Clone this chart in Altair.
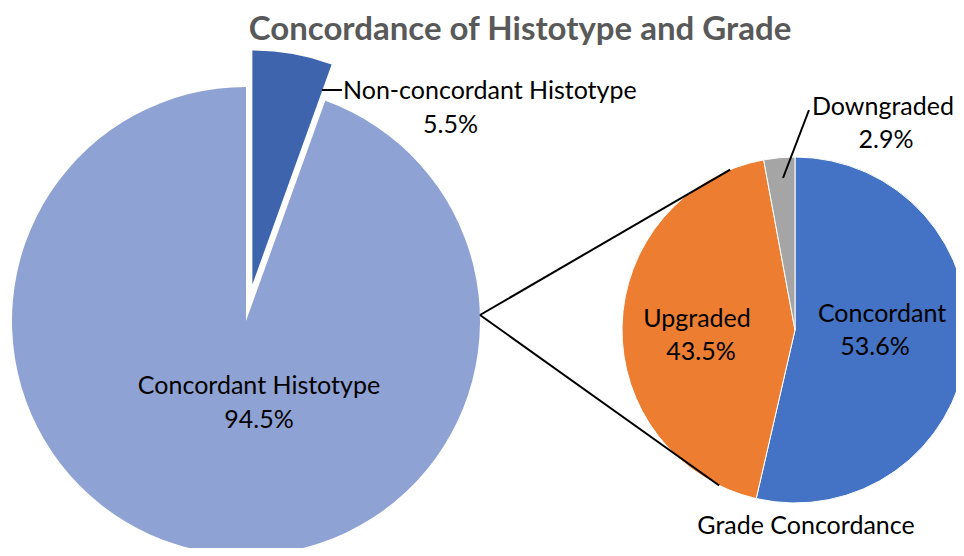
import math
import altair as alt
import pandas as pd

# ---------------- data ----------------
hist_labels = ["Non-concordant Histotype", "Concordant Histotype"]
hist_values = [5.5, 94.5]
grade_labels = ["Concordant", "Upgraded", "Downgraded"]
grade_values = [53.6, 43.5, 2.9]
title_text = "Concordance of Histotype and Grade"
second_pie_name = "Grade Concordance"

all_labels = hist_labels + grade_labels
all_colors = ["#3D64AD", "#8FA2D4", "#4472C4", "#ED7D31", "#A5A5A5"]

# ---------------- layout ----------------
W, H = 948, 540
FONT = "Lato"
LBL = 25
BIG_C = (238, 313)
BIG_R = 234
EXPLODE = 37
SMALL_C = (787, 322)
SMALL_R = 173

df_h = pd.DataFrame({"label": hist_labels, "value": hist_values, "idx": range(len(hist_labels))})
df_g = pd.DataFrame({"label": grade_labels, "value": grade_values, "idx": range(len(grade_labels))})

theta_scale = alt.Scale(domain=[0, 100], range=[0, 2 * math.pi])
color_scale = alt.Scale(domain=all_labels, range=all_colors)


def pie(df, keep, cx, cy, r, stroke=None):
    ch = alt.Chart(df).transform_stack(
        stack="value", groupby=[], as_=["t0", "t1"], sort=[alt.SortField("idx", order="ascending")]
    )
    if keep is not None:
        ch = ch.transform_filter(alt.FieldOneOfPredicate(field="label", oneOf=keep))
    kw = dict(radius=r)
    if stroke:
        kw.update(stroke=stroke, strokeWidth=1)
    return ch.mark_arc(**kw).encode(
        theta=alt.Theta("t0:Q", scale=theta_scale),
        theta2="t1:Q",
        color=alt.Color("label:N", scale=color_scale, legend=None),
        x=alt.value(cx),
        y=alt.value(cy),
    )


# explode direction: middle of first slice
mid = hist_values[0] / 100 * math.pi
dx, dy = EXPLODE * math.sin(mid), -EXPLODE * math.cos(mid)

light = pie(df_h, [hist_labels[1]], BIG_C[0], BIG_C[1], BIG_R)
dark = pie(df_h, [hist_labels[0]], BIG_C[0] + dx, BIG_C[1] + dy, BIG_R)
small = pie(df_g, None, SMALL_C[0], SMALL_C[1], SMALL_R, stroke="#FFFFFF")


def line(x1, y1, x2, y2, w=2):
    return alt.Chart(pd.DataFrame({"k": [0]})).mark_rule(color="#000000", strokeWidth=w).encode(
        x=alt.value(x1), y=alt.value(y1), x2=alt.value(x2), y2=alt.value(y2)
    )


def txt(s, x, y, size=LBL, align="center", weight="normal", color="#000000"):
    return alt.Chart(pd.DataFrame({"t": [s]})).mark_text(
        font=FONT, fontSize=size, align=align, baseline="alphabetic", fontWeight=weight, color=color
    ).encode(x=alt.value(x), y=alt.value(y), text="t:N")


def pct(v):
    return f"{v}%"


# connector lines from big pie to second pie
vx, vy = BIG_C[0] + BIG_R, BIG_C[1] - 6
a_top, a_bot = math.radians(338), math.radians(206)
top_pt = (SMALL_C[0] + SMALL_R * math.sin(a_top), SMALL_C[1] - SMALL_R * math.cos(a_top))
bot_pt = (SMALL_C[0] + SMALL_R * math.sin(a_bot), SMALL_C[1] - SMALL_R * math.cos(a_bot))

layers = [
    light,
    dark,
    small,
    line(vx, vy, top_pt[0], top_pt[1]),
    line(vx, vy, bot_pt[0], bot_pt[1]),
    line(314, 82, 334, 82),
    line(801, 102, 775, 170),
    txt(title_text, 512, 32, size=33, weight="bold", color="#595959"),
    txt(hist_labels[0], 335, 91, align="left"),
    txt(pct(hist_values[0]), 415, 125, align="left"),
    txt(hist_labels[1], 251, 386),
    txt(pct(hist_values[1]), 251, 420),
    txt(grade_labels[0], 874, 314),
    txt(pct(grade_values[0]), 867, 347),
    txt(grade_labels[1], 689, 319),
    txt(pct(grade_values[1]), 693, 352),
    txt(grade_labels[2], 875, 107),
    txt(pct(grade_values[2]), 878, 140),
    txt(second_pie_name, 798, 526),
]

chart = alt.layer(*layers).properties(
    width=W, height=H, padding=0, autosize=alt.AutoSizeParams(type="none")
).configure_view(stroke=None)

chart.save("out.html", embed_options={"renderer": "svg", "actions": False})
